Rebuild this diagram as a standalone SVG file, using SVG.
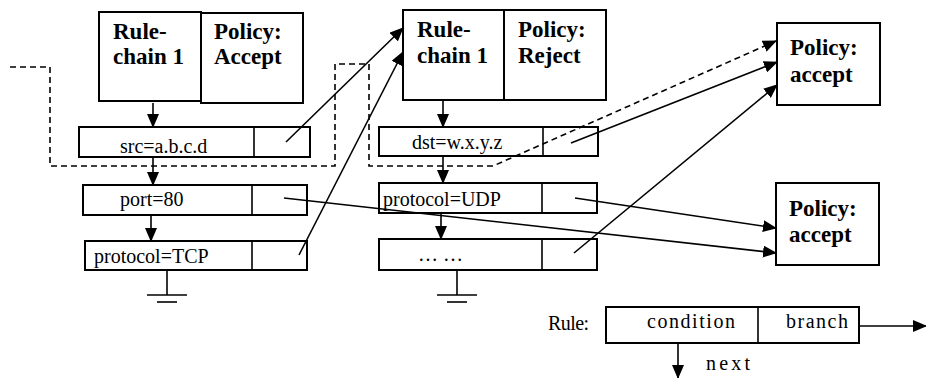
<svg xmlns="http://www.w3.org/2000/svg" width="926" height="378" viewBox="0 0 926 378">
<style>
.box{fill:#fff;stroke:#000;stroke-width:2}
.ln{fill:none;stroke:#000;stroke-width:1.6}
.dash{fill:none;stroke:#000;stroke-width:1.6;stroke-dasharray:6 4}
.t{font-size:20px;fill:#000}
.b{font-size:23px;font-weight:bold;fill:#000}
</style>
<defs>
<marker id="ah" markerUnits="userSpaceOnUse" markerWidth="14" markerHeight="12" refX="13" refY="6" orient="auto">
<path d="M0,0 L14,6 L0,12 Z" fill="#000"/>
</marker>
</defs>
<rect width="926" height="378" fill="#fff"/>
<g font-family="Liberation Serif, Tinos, Times New Roman, DejaVu Serif, serif">
<g id="chain1">
<rect class="box" x="99" y="12" width="102" height="89"/>
<rect class="box" x="201" y="13" width="102" height="90"/>
<text class="b" x="113" y="39">Rule-</text>
<text class="b" x="113" y="64">chain 1</text>
<text class="b" x="214" y="39">Policy:</text>
<text class="b" x="214" y="64">Accept</text>
</g>
<g id="src">
<rect class="box" x="79" y="127" width="231" height="30"/>
<line class="ln" x1="254" y1="127" x2="254" y2="157"/>
<text class="t" x="120" y="153">src=a.b.c.d</text>
</g>
<g id="port">
<rect class="box" x="83" y="185" width="224" height="30"/>
<line class="ln" x1="252" y1="185" x2="252" y2="215"/>
<text class="t" x="120" y="206">port=80</text>
</g>
<g id="tcp">
<rect class="box" x="85" y="241" width="222" height="29"/>
<line class="ln" x1="252" y1="241" x2="252" y2="270"/>
<text class="t" x="94" y="263">protocol=TCP</text>
</g>
<g id="ground1">
<line class="ln" x1="167" y1="270" x2="167" y2="295"/>
<line class="ln" x1="147" y1="295" x2="187" y2="295"/>
<line class="ln" x1="157" y1="302" x2="177" y2="302"/>
</g>

<g id="chain2">
<rect class="box" x="403" y="10" width="101" height="90"/>
<rect class="box" x="504" y="10" width="102" height="90"/>
<text class="b" x="417" y="37">Rule-</text>
<text class="b" x="417" y="63">chain 1</text>
<text class="b" x="518" y="37">Policy:</text>
<text class="b" x="518" y="63">Reject</text>
</g>
<g id="dst">
<rect class="box" x="379" y="127" width="219" height="29"/>
<line class="ln" x1="543" y1="127" x2="543" y2="156"/>
<text class="t" x="412" y="149">dst=w.x.y.z</text>
</g>
<g id="udp">
<rect class="box" x="379" y="183" width="218" height="30"/>
<line class="ln" x1="542" y1="183" x2="542" y2="213"/>
<text class="t" x="383" y="206">protocol=UDP</text>
</g>
<g id="more">
<rect class="box" x="379" y="239" width="218" height="31"/>
<line class="ln" x1="542" y1="239" x2="542" y2="270"/>
<text class="t" x="418" y="261">…  …</text>
</g>
<g id="ground2">
<line class="ln" x1="457" y1="270" x2="457" y2="295"/>
<line class="ln" x1="437" y1="295" x2="477" y2="295"/>
<line class="ln" x1="447" y1="302" x2="467" y2="302"/>
</g>

<g id="accept1">
<rect class="box" x="777" y="23" width="103" height="82"/>
<text class="b" x="790" y="55">Policy:</text>
<text class="b" x="790" y="82">accept</text>
</g>
<g id="accept2">
<rect class="box" x="776" y="183" width="103" height="82"/>
<text class="b" x="789" y="216">Policy:</text>
<text class="b" x="789" y="242">accept</text>
</g>

<g id="legend">
<text class="t" x="548" y="330" textLength="41" lengthAdjust="spacing">Rule:</text>
<rect class="box" x="606" y="307" width="253" height="36"/>
<line class="ln" x1="758" y1="307" x2="758" y2="343"/>
<text class="t" x="647" y="328" textLength="88" lengthAdjust="spacing">condition</text>
<text class="t" x="786" y="328" textLength="62" lengthAdjust="spacing">branch</text>
<text class="t" x="706" y="370" textLength="44" lengthAdjust="spacing">next</text>
</g>
</g>
<g id="connectors">
<line class="ln" x1="153" y1="103" x2="153" y2="127" marker-end="url(#ah)"/>
<line class="ln" x1="153" y1="157" x2="153" y2="185" marker-end="url(#ah)"/>
<line class="ln" x1="151" y1="215" x2="151" y2="241" marker-end="url(#ah)"/>
<line class="ln" x1="443" y1="100" x2="443" y2="127" marker-end="url(#ah)"/>
<line class="ln" x1="443" y1="156" x2="443" y2="183" marker-end="url(#ah)"/>
<line class="ln" x1="441" y1="213" x2="441" y2="239" marker-end="url(#ah)"/>
<line class="ln" x1="286" y1="142" x2="403" y2="28" marker-end="url(#ah)"/>
<line class="ln" x1="299" y1="255" x2="403" y2="52" marker-end="url(#ah)"/>
<line class="ln" x1="284" y1="198" x2="776" y2="253" marker-end="url(#ah)"/>
<path class="dash" d="M10,67 H50 V166 H335 V64 H369 V166 H493 L776,41" marker-end="url(#ah)"/>
<line class="ln" x1="571" y1="143" x2="777" y2="62" marker-end="url(#ah)"/>
<line class="ln" x1="575" y1="198" x2="776" y2="228" marker-end="url(#ah)"/>
<line class="ln" x1="574" y1="253" x2="777" y2="85" marker-end="url(#ah)"/>
<line class="ln" x1="859" y1="326" x2="926" y2="326" marker-end="url(#ah)"/>
<line class="ln" x1="678" y1="343" x2="678" y2="378" marker-end="url(#ah)"/>
</g>
</svg>
